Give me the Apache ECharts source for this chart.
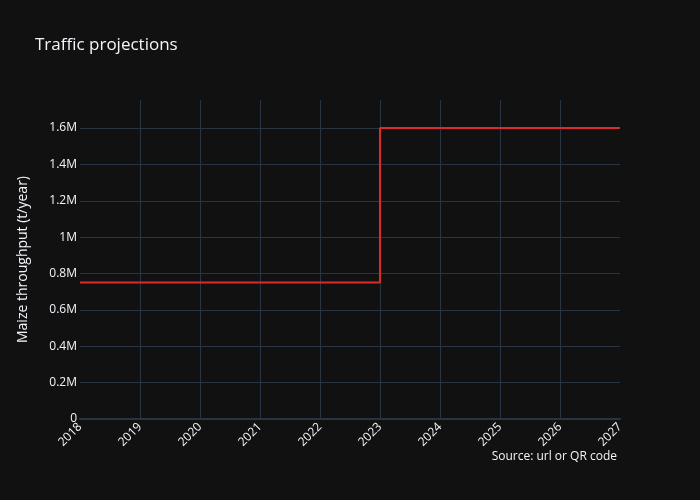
<!DOCTYPE html>
<html>
<head>
<meta charset="utf-8">
<script src="https://cdn.jsdelivr.net/npm/echarts@6/dist/echarts.min.js"></script>
<style>html,body{margin:0;padding:0;background:#111111;}#chart{width:700px;height:500px;}</style>
</head>
<body>
<div id="chart"></div>
<script>
var years = [2018, 2019, 2020, 2021, 2022, 2023, 2024, 2025, 2026, 2027];
var throughput = [750000, 750000, 750000, 750000, 750000, 1600000, 1600000, 1600000, 1600000, 1600000];
var titleText = 'Traffic projections';
var yAxisTitle = 'Maize throughput (t/year)';
var sourceText = 'Source: url or QR code';

var chart = echarts.init(document.getElementById('chart'), null, {renderer: 'canvas'});
var FONT = '"Open Sans", sans-serif';
var TXT = '#f2f5fa';
var GRID = '#283442';
function fmtY(v) {
  if (v === 0) return '0';
  if (v % 200000 !== 0) return '';
  var m = v / 1e6;
  return (Math.round(m * 10) / 10) + 'M';
}
chart.setOption({
  backgroundColor: '#111111',
  animation: false,
  textStyle: {fontFamily: FONT},
  title: {
    text: titleText, left: 30, top: 32,
    textStyle: {color: TXT, fontSize: 17, fontWeight: 'normal', fontFamily: FONT}
  },
  grid: {left: 80, right: 80, top: 100, bottom: 81},
  xAxis: {
    type: 'value', min: 2018, max: 2027, interval: 1,
    axisLine: {show: true, onZero: false, lineStyle: {color: GRID, width: 2}},
    axisTick: {show: false},
    axisLabel: {color: TXT, fontSize: 12, fontFamily: FONT, rotate: 45, margin: 6,
      formatter: function (v) { return String(v); }},
    splitLine: {show: true, showMinLine: false, showMaxLine: false, lineStyle: {color: GRID, width: 1}}
  },
  yAxis: {
    type: 'value', min: 0, max: 1754000, interval: 200000,
    name: yAxisTitle, nameLocation: 'middle', nameGap: 50, nameRotate: 90,
    nameTextStyle: {color: TXT, fontSize: 14, fontFamily: FONT},
    axisLine: {show: false}, axisTick: {show: false},
    axisLabel: {color: TXT, fontSize: 12, fontFamily: FONT, margin: 3, showMaxLabel: false, formatter: fmtY},
    splitLine: {show: true, showMaxLine: false, showMinLine: false, lineStyle: {color: GRID, width: 1}}
  },
  series: [{
    type: 'line', step: 'end', symbol: 'none',
    data: years.map(function (y, i) { return [y, throughput[i]]; }),
    lineStyle: {color: '#dd2a2a', width: 2}
  }],
  graphic: [{
    type: 'text', right: 83, top: 451,
    style: {text: sourceText, fill: TXT, font: '12px "Open Sans", sans-serif', textAlign: 'right'}
  }]
});
</script>
</body>
</html>
